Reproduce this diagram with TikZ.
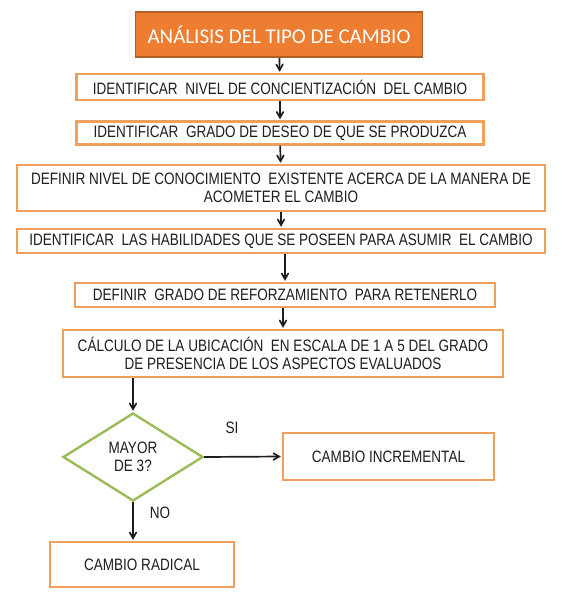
\documentclass[tikz,border=0pt]{standalone}
\usepackage{fontspec}
\setmainfont[FakeStretch=0.82]{Liberation Sans}
\newfontfamily\titlefont{Carlito}
\usetikzlibrary{arrows}
\usetikzlibrary{positioning}
\usetikzlibrary{shapes.geometric}

\definecolor{boxorange}{HTML}{F0A05A}
\definecolor{titleorange}{HTML}{ED7D31}
\definecolor{titleborder}{HTML}{B35E24}
\definecolor{diagreen}{HTML}{9BBB59}
\definecolor{txtgray}{HTML}{1E1E1E}

\begin{document}
\begin{tikzpicture}[x=1pt,y=-1pt,->,>=angle 60,shorten >=1pt,
		line width=1.7pt,
		step node/.style={draw=boxorange,line width=2.4pt,fill=white,inner sep=0pt,
			align=center,text=txtgray,font=\fontsize{16.5}{18}\selectfont},
		title node/.style={draw=titleborder,line width=1.6pt,fill=titleorange,inner sep=0pt,
			text=white,font=\titlefont\fontsize{21}{24}\selectfont},
		decision node/.style={diamond,draw=diagreen,line width=2.4pt,fill=white,inner sep=0pt,
			align=center,text=txtgray,font=\fontsize{16.5}{18}\selectfont},
		label node/.style={text=txtgray,font=\fontsize{16.5}{18}\selectfont}]

	\useasboundingbox (0,0) rectangle (569,596);

	\node[title node,minimum width=287pt,minimum height=45pt] (titulo) at (279,34.5) {ANÁLISIS DEL TIPO DE CAMBIO};
	\node[step node,minimum width=407pt,minimum height=26pt] (concien) at (280,87) {IDENTIFICAR\ \ NIVEL DE CONCIENTIZACIÓN\ \ DEL CAMBIO};
	\node[step node,minimum width=407pt,minimum height=23pt] (deseo) at (280,133) {IDENTIFICAR\ \ GRADO DE DESEO DE QUE SE PRODUZCA};
	\node[step node,minimum width=528pt,minimum height=46pt] (conoc) at (281,188) {DEFINIR NIVEL DE CONOCIMIENTO\ \ EXISTENTE ACERCA DE LA MANERA DE\\ACOMETER EL CAMBIO};
	\node[step node,minimum width=528pt,minimum height=24pt] (habil) at (281,241) {IDENTIFICAR\ \ LAS HABILIDADES QUE SE POSEEN PARA ASUMIR\ \ EL CAMBIO};
	\node[step node,minimum width=420pt,minimum height=24pt] (refuerzo) at (285,295) {DEFINIR\ \ GRADO DE REFORZAMIENTO\ \ PARA RETENERLO};
	\node[step node,minimum width=440pt,minimum height=47pt] (calculo) at (283,353.5) {CÁLCULO DE LA UBICACIÓN\ \ EN ESCALA DE 1 A 5 DEL GRADO\\DE PRESENCIA DE LOS ASPECTOS EVALUADOS};

	\node[decision node,minimum width=140pt,minimum height=88pt] (mayor) at (133,457) {MAYOR\\DE 3?};
	\node[step node,minimum width=211pt,minimum height=47pt] (incremental) at (388.5,456.5) {CAMBIO INCREMENTAL};
	\node[step node,minimum width=184pt,minimum height=45pt] (radical) at (142,564.5) {CAMBIO RADICAL};

	\node[label node] (si) at (232,428) {SI};
	\node[label node] (no) at (160,513) {NO};

	\path[color=txtgray]
	(titulo) edge (concien)
	(concien) edge (deseo)
	(deseo) edge (conoc)
	(conoc) edge (habil)
	(habil.south -| refuerzo.north) edge (refuerzo.north)
	(refuerzo.south -| calculo.north) edge (calculo.north)
	(calculo.south -| mayor.north) edge (mayor.north)
	(mayor.east) edge (incremental.west)
	(mayor.south) edge (mayor.south |- radical.north);

\end{tikzpicture}
\end{document}
